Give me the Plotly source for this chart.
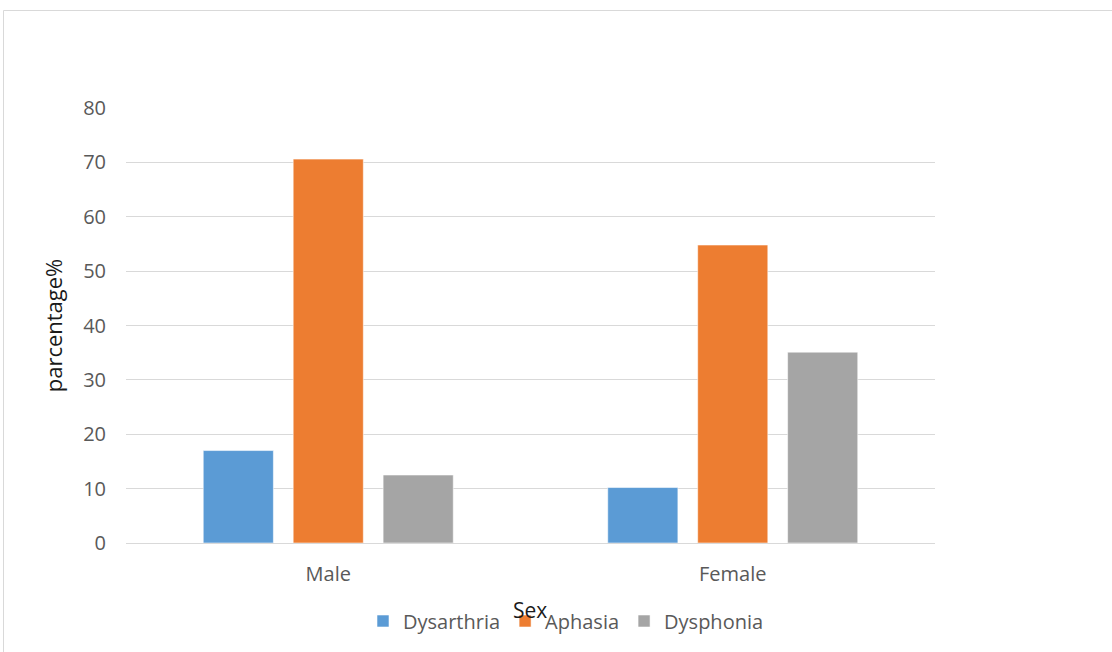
import plotly.graph_objects as go

# Categories and series values (percent)
sexes = ["Male", "Female"]
dysarthria = [17.0, 10.2]
aphasia = [70.6, 54.8]
dysphonia = [12.5, 35.1]
y_ticks = [0, 10, 20, 30, 40, 50, 60, 70, 80]

series = [
    ("Dysarthria", dysarthria, "#5B9BD5"),
    ("Aphasia", aphasia, "#ED7D31"),
    ("Dysphonia", dysphonia, "#A5A5A5"),
]

FONT = "Open Sans, Liberation Sans, Arial, sans-serif"

fig = go.Figure()
for name, vals, color in series:
    fig.add_trace(go.Bar(
        x=sexes, y=vals, name=name,
        marker=dict(color=color, line=dict(color="rgba(255,255,255,0.55)", width=1)),
    ))

W, H = 1112, 652
L, R, T, B = 126, 177, 108, 109
pw, ph = W - L - R, H - T - B

def px_x(p):
    return (p - L) / pw

def px_y(p):
    return (H - B - p) / ph

fig.update_layout(
    width=W, height=H,
    margin=dict(l=L, r=R, t=T, b=B, autoexpand=False),
    paper_bgcolor="white", plot_bgcolor="white",
    barmode="group", bargap=0.333, bargroupgap=0.22,
    font=dict(family=FONT, color="#595959"),
    xaxis=dict(
        showgrid=False, showline=False, zeroline=False,
        tickfont=dict(size=20, color="#595959"),
        ticklabelstandoff=17,
    ),
    yaxis=dict(
        range=[0, 80], tickvals=y_ticks,
        showgrid=True, gridcolor="#d9d9d9", gridwidth=1,
        zeroline=True, zerolinecolor="#d9d9d9", zerolinewidth=1,
        showline=False,
        tickfont=dict(size=20, color="#595959"),
        ticklabelstandoff=19,
        title=dict(text="parcentage%", font=dict(size=22, color="#1a1a1a"), standoff=14),
    ),
    legend=dict(
        orientation="h", x=px_x(566), xanchor="center",
        y=px_y(621), yanchor="middle",
        font=dict(size=20, color="#595959"),
        itemwidth=30, traceorder="normal",
        bgcolor="rgba(0,0,0,0)",
    ),
    showlegend=True,
)

# x-axis title placed over the legend row
fig.add_annotation(
    text="Sex", xref="paper", yref="paper",
    x=px_x(530), y=px_y(610), xanchor="center", yanchor="middle",
    showarrow=False, font=dict(size=21, color="#1a1a1a", family=FONT),
)

# Outer chart frame
fig.add_shape(
    type="rect", xref="paper", yref="paper",
    x0=px_x(3.5), x1=px_x(1200), y0=px_y(700), y1=px_y(10.5),
    line=dict(color="#d9d9d9", width=1), fillcolor="rgba(0,0,0,0)", layer="below",
)

fig.write_html("out.html")
